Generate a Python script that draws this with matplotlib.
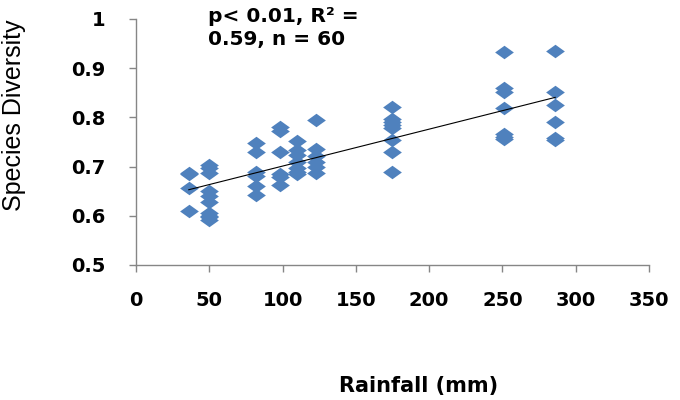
import numpy as np
import matplotlib
matplotlib.use("Agg")
import matplotlib.pyplot as plt
from matplotlib.ticker import FormatStrFormatter, MultipleLocator

# Rainfall (mm) and species diversity per sampled plot
rainfall = [36, 36, 36, 36,
            50, 50, 50, 50, 50, 50, 50, 50, 50, 50,
            82, 82, 82, 82, 82, 82,
            98, 98, 98, 98, 98, 98,
            110, 110, 110, 110, 110, 110, 110,
            123, 123, 123, 123, 123, 123,
            175, 175, 175, 175, 175, 175, 175, 175,
            251, 251, 251, 251, 251, 251, 251,
            286, 286, 286, 286, 286, 286]
diversity = [0.688, 0.684, 0.657, 0.610,
             0.703, 0.697, 0.688, 0.650, 0.640, 0.628, 0.605, 0.600, 0.598, 0.592,
             0.747, 0.730, 0.690, 0.680, 0.660, 0.642,
             0.780, 0.772, 0.730, 0.685, 0.678, 0.662,
             0.752, 0.733, 0.724, 0.710, 0.698, 0.690, 0.684,
             0.795, 0.735, 0.722, 0.710, 0.700, 0.686,
             0.822, 0.796, 0.790, 0.785, 0.778, 0.755, 0.730, 0.690,
             0.933, 0.860, 0.852, 0.820, 0.766, 0.760, 0.756,
             0.935, 0.852, 0.825, 0.790, 0.758, 0.755]
stats_text = "p< 0.01, R\u00b2 =\n0.59, n = 60"

plt.rcParams['font.family'] = ['DejaVu Sans']

fig = plt.figure(figsize=(6.8, 4.0), dpi=100)
ax = fig.add_axes([0.2, 0.3375, 0.7544, 0.615])

# flattened diamond marker
diamond = [(-1, 0), (0, 0.72), (1, 0), (0, -0.72), (-1, 0)]
ax.plot(rainfall, diversity, linestyle='none', marker=diamond, markersize=13.5,
        color='#4F81BD', markeredgewidth=0)

# linear trend line
x = np.array(rainfall, dtype=float)
y = np.array(diversity)
slope, intercept = np.polyfit(x, y, 1)
xs = np.array([x.min(), x.max()])
ax.plot(xs, slope * xs + intercept, color='black', linewidth=0.8)

ax.set_xlim(0, 350)
ax.set_ylim(0.5, 1.0)
ax.xaxis.set_major_locator(MultipleLocator(50))
ax.yaxis.set_major_locator(MultipleLocator(0.1))
ax.yaxis.set_major_formatter(FormatStrFormatter('%g'))

for side in ['top', 'right']:
    ax.spines[side].set_visible(False)
for side in ['left', 'bottom']:
    ax.spines[side].set_color('#868686')
    ax.spines[side].set_linewidth(1.0)

ax.tick_params(axis='both', colors='#868686', length=5, width=1.0,
               labelcolor='black', labelsize=14)
ax.tick_params(axis='y', pad=17)
ax.tick_params(axis='x', pad=14)
for lbl in ax.get_xticklabels() + ax.get_yticklabels():
    lbl.set_fontweight('bold')

ax.set_xlabel('Rainfall (mm)', fontsize=15, fontweight='bold')
ax.xaxis.set_label_coords(0.55, -0.45)
ax.set_ylabel('Species Diversity', fontsize=18, family=['Liberation Sans'])
ax.yaxis.set_label_coords(-0.214, 0.61)

ax.text(49, 1.024, stats_text, fontsize=14.5, fontweight='bold',
        va='top', ha='left', linespacing=1.25, clip_on=False)

fig.savefig('out.png', dpi=100)
